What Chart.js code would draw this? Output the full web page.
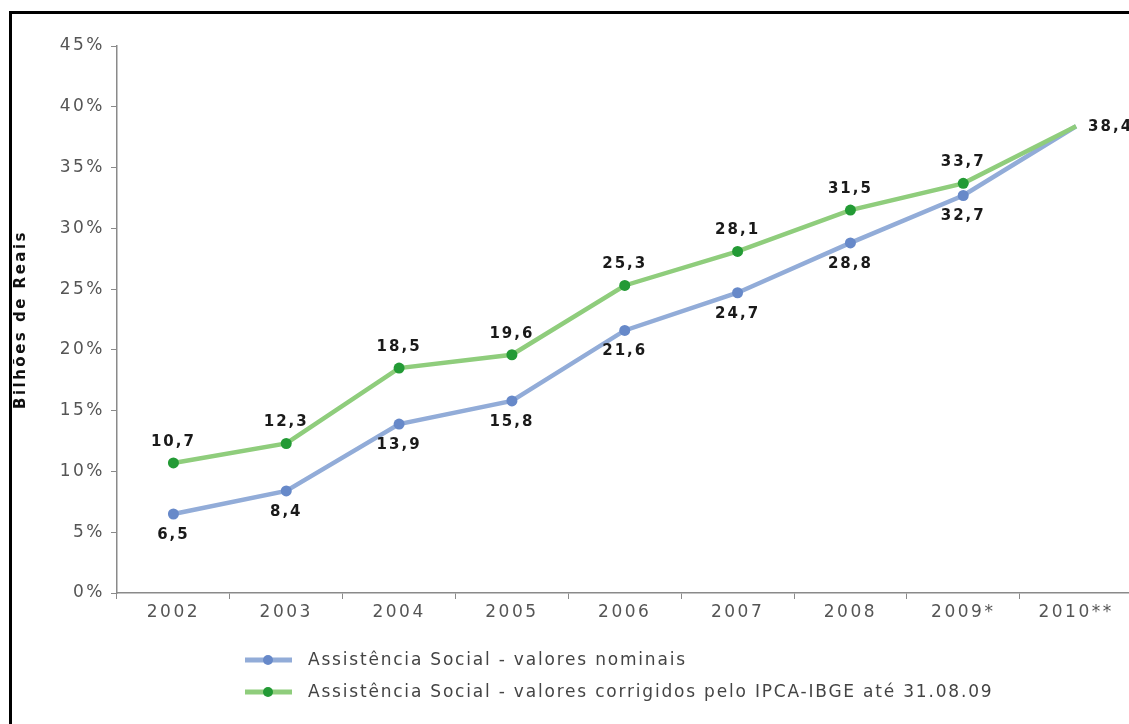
<!DOCTYPE html>
<html>
<head>
<meta charset="utf-8">
<script src="https://cdn.jsdelivr.net/npm/chart.js@4"></script>
<style>
  html, body { margin: 0; padding: 0; background: #fff; overflow: hidden; }
  #frame {
    position: absolute; left: 9px; top: 11px;
    width: 1200px; height: 800px;
    border-top: 3px solid #000; border-left: 3px solid #000;
  }
  #chart { display: block; }
</style>
</head>
<body>
<div id="frame"><canvas id="chart" width="1126" height="710"></canvas></div>
<script>
// Chart data
const years = ['2002', '2003', '2004', '2005', '2006', '2007', '2008', '2009*', '2010**'];
const nominalValues = [6.5, 8.4, 13.9, 15.8, 21.6, 24.7, 28.8, 32.7, 38.4];
const correctedValues = [10.7, 12.3, 18.5, 19.6, 25.3, 28.1, 31.5, 33.7, 38.4];
const yTicks = [0, 5, 10, 15, 20, 25, 30, 35, 40, 45];
const legendLabels = [
  'Assistência Social - valores nominais',
  'Assistência Social - valores corrigidos pelo IPCA-IBGE até 31.08.09'
];

const tickFont = { family: 'DejaVu Sans', size: 17 };

// no marker on the last (shared) point
const markerSizes = years.map((y, i) => (i === years.length - 1 ? 0 : 5.5));

// canvas letter spacing gets reset on resize, so set it before each update/draw
const spacingPlugin = {
  id: 'spacing',
  beforeUpdate(chart) { chart.ctx.letterSpacing = '2.5px'; },
  beforeDraw(chart) { chart.ctx.letterSpacing = '2.5px'; }
};

// Value labels: corrected above the point, nominal below, last one to the right
const valueLabels = {
  id: 'valueLabels',
  afterDatasetsDraw(chart) {
    const ctx = chart.ctx;
    ctx.save();
    ctx.letterSpacing = '2px';
    ctx.font = 'bold 15px "DejaVu Sans"';
    ctx.fillStyle = '#1a1a1a';
    ctx.textAlign = 'center';
    ctx.textBaseline = 'middle';
    const last = years.length - 1;
    chart.data.datasets.forEach((ds, i) => {
      const meta = chart.getDatasetMeta(i);
      meta.data.forEach((pt, j) => {
        const txt = ds.data[j].toFixed(1).replace('.', ',');
        if (j === last) {
          if (i === 1) {
            ctx.textAlign = 'left';
            ctx.fillText(txt, pt.x + 12, pt.y + 1);
            ctx.textAlign = 'center';
          }
          return;
        }
        const dy = i === 1 ? -21 : 21;
        ctx.fillText(txt, pt.x, pt.y + dy);
      });
    });
    ctx.restore();
  }
};

// Legend stacked under the axis, line + dot sample
const stackedLegend = {
  id: 'stackedLegend',
  afterDraw(chart) {
    const ctx = chart.ctx;
    ctx.save();
    ctx.letterSpacing = '1.8px';
    ctx.font = '17px "DejaVu Sans"';
    ctx.textBaseline = 'middle';
    chart.data.datasets.forEach((ds, i) => {
      const y = 646 + i * 32;
      const x0 = 233;
      ctx.strokeStyle = ds.borderColor;
      ctx.lineWidth = 5;
      ctx.beginPath();
      ctx.moveTo(x0, y);
      ctx.lineTo(x0 + 47, y);
      ctx.stroke();
      ctx.fillStyle = ds.pointBackgroundColor;
      ctx.beginPath();
      ctx.arc(x0 + 23, y, 5, 0, Math.PI * 2);
      ctx.fill();
      ctx.fillStyle = '#444';
      ctx.fillText(legendLabels[i], x0 + 63, y + 1);
    });
    ctx.restore();
  }
};

const ctx = document.getElementById('chart').getContext('2d');
new Chart(ctx, {
  type: 'line',
  data: {
    labels: years,
    datasets: [
      {
        label: legendLabels[0],
        data: nominalValues,
        order: 1,
        borderColor: '#92acd8',
        borderWidth: 4.5,
        pointBackgroundColor: '#6789c9',
        pointBorderWidth: 0,
        pointRadius: markerSizes,
        tension: 0,
      },
      {
        label: legendLabels[1],
        data: correctedValues,
        order: 0,
        borderColor: '#8fcd7c',
        borderWidth: 4.5,
        pointBackgroundColor: '#239a35',
        pointBorderWidth: 0,
        pointRadius: markerSizes,
        tension: 0,
      },
    ],
  },
  options: {
    responsive: false,
    animation: false,
    layout: { padding: { top: 32, left: 0, right: 0, bottom: 0 } },
    plugins: {
      legend: { display: false },
      tooltip: { enabled: false },
    },
    scales: {
      x: {
        offset: true,
        afterFit: s => { s.height = 131; },
        border: { color: '#8a8a8a', width: 1.5 },
        grid: {
          offset: true,
          drawOnChartArea: false,
          drawTicks: true,
          tickLength: 6,
          color: '#8a8a8a',
        },
        ticks: { color: '#555', font: tickFont, padding: 3, maxRotation: 0 },
      },
      y: {
        min: 0,
        max: 45,
        afterFit: s => { s.width = 105; },
        afterBuildTicks: s => { s.ticks = yTicks.map(v => ({ value: v })); },
        border: { color: '#8a8a8a', width: 1.5 },
        grid: {
          drawOnChartArea: false,
          drawTicks: true,
          tickLength: 6,
          color: '#8a8a8a',
        },
        ticks: {
          color: '#555',
          font: tickFont,
          padding: 6,
          callback: v => v + '%',
        },
        title: {
          display: true,
          text: 'Bilhões de Reais',
          color: '#111',
          font: { family: 'DejaVu Sans', size: 15, weight: 'bold' },
          padding: 0,
        },
      },
    },
  },
  plugins: [spacingPlugin, valueLabels, stackedLegend],
});
</script>
</body>
</html>
